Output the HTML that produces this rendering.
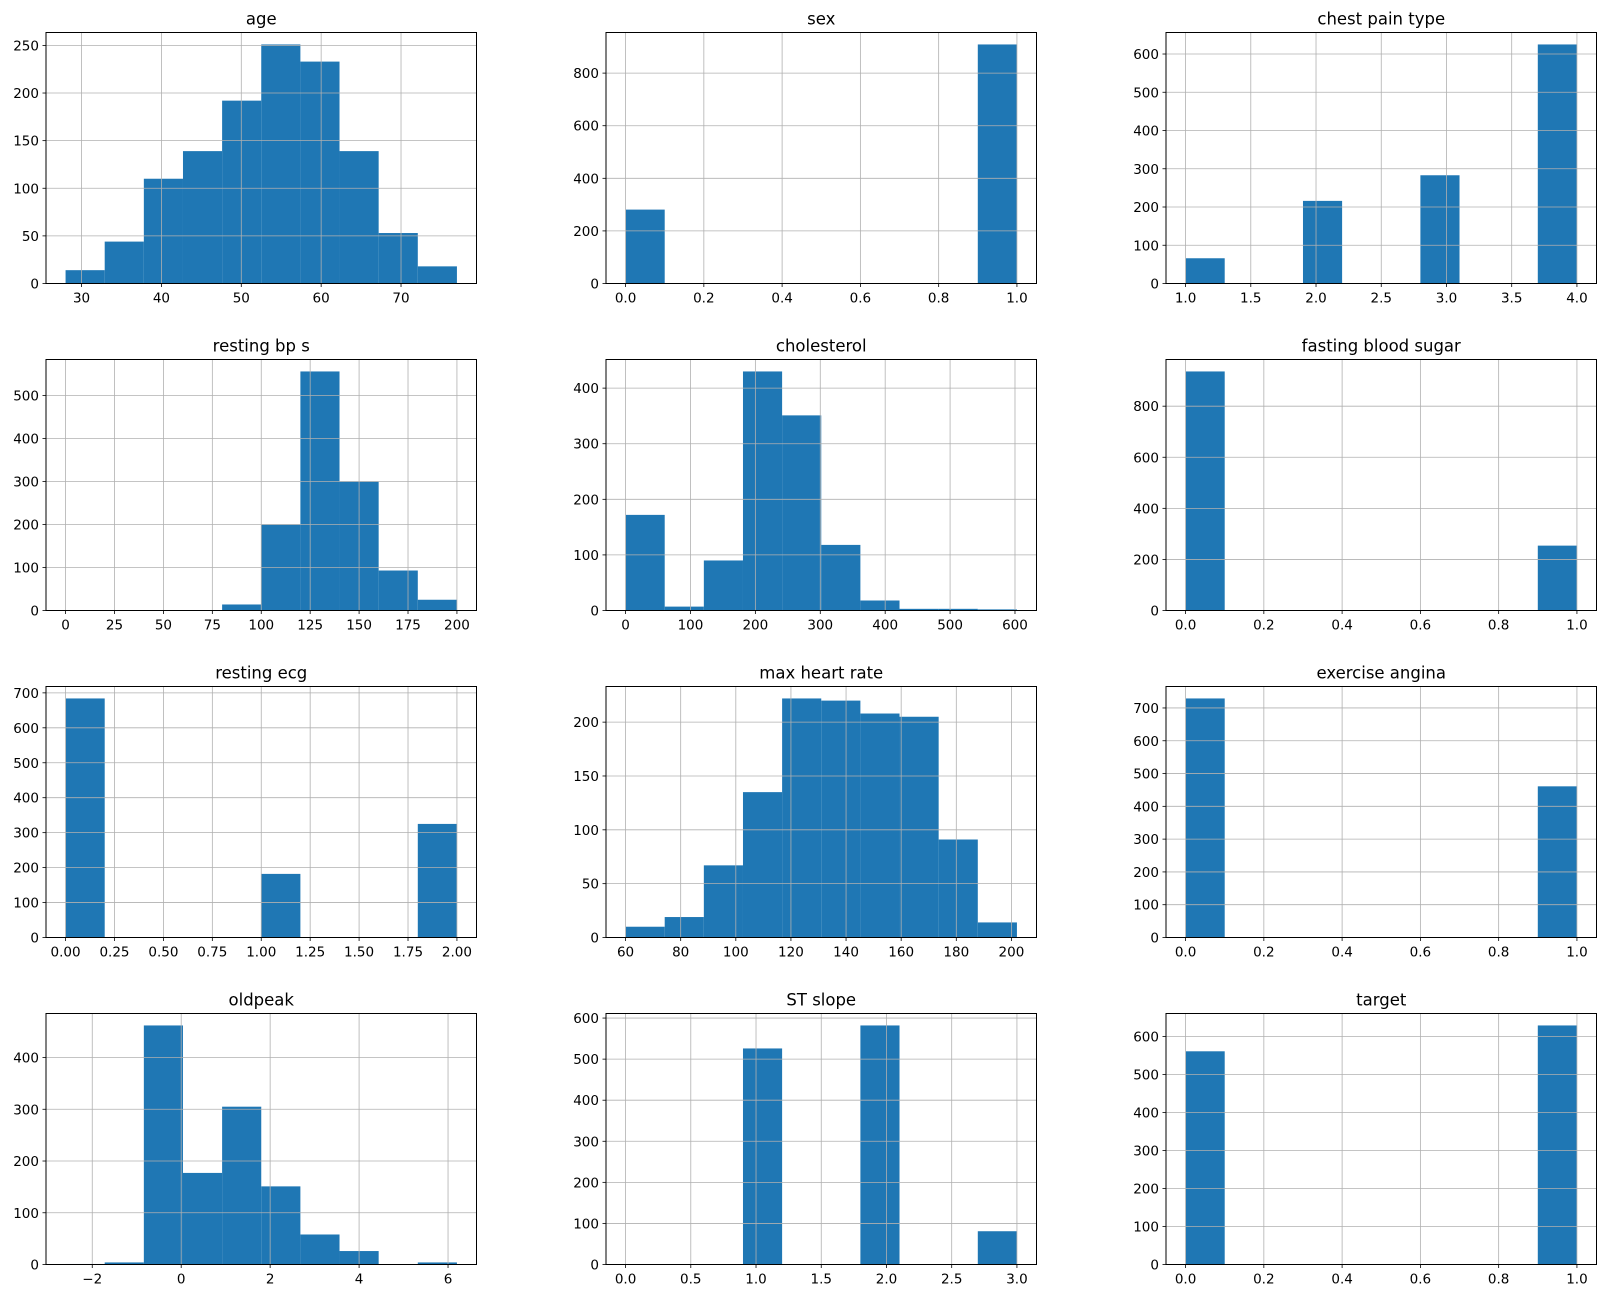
<!DOCTYPE html>
<html><head><meta charset="utf-8"><style>
body{margin:0;background:#fff}
svg{display:block;font-family:"DejaVu Sans","Liberation Sans",sans-serif}
</style></head><body>
<svg id="chart" width="1606" height="1298" viewBox="0 0 1606 1298" xmlns="http://www.w3.org/2000/svg"></svg>
<script>
const titles = ["age","sex","chest pain type","resting bp s","cholesterol","fasting blood sugar","resting ecg","max heart rate","exercise angina","oldpeak","ST slope","target"];
const binLo = [28,0,1,0,0,0,0,60,0,-2.6,0,0];
const binHi = [77,1,4,200,603,1,2,202,1,6.2,3,1];
const counts = [
 [14,44,110,139,192,251,233,139,53,18],
 [281,0,0,0,0,0,0,0,0,909],
 [66,0,0,216,0,0,283,0,0,625],
 [1,0,0,0,14,200,556,300,93,25],
 [172,7,90,430,351,118,18,3,3,2],
 [936,0,0,0,0,0,0,0,0,254],
 [684,0,0,0,0,182,0,0,0,325],
 [10,19,67,135,222,220,208,205,91,14],
 [729,0,0,0,0,0,0,0,0,461],
 [1,4,462,177,305,151,58,26,0,4],
 [1,0,0,526,0,0,582,0,0,81],
 [561,0,0,0,0,0,0,0,0,629]
];
const xTicks = [
 [30,40,50,60,70],[0,0.2,0.4,0.6,0.8,1],[1,1.5,2,2.5,3,3.5,4],
 [0,25,50,75,100,125,150,175,200],[0,100,200,300,400,500,600],[0,0.2,0.4,0.6,0.8,1],
 [0,0.25,0.5,0.75,1,1.25,1.5,1.75,2],[60,80,100,120,140,160,180,200],[0,0.2,0.4,0.6,0.8,1],
 [-2,0,2,4,6],[0,0.5,1,1.5,2,2.5,3],[0,0.2,0.4,0.6,0.8,1]
];
const xLabels = [
 ["30","40","50","60","70"],["0.0","0.2","0.4","0.6","0.8","1.0"],["1.0","1.5","2.0","2.5","3.0","3.5","4.0"],
 ["0","25","50","75","100","125","150","175","200"],["0","100","200","300","400","500","600"],["0.0","0.2","0.4","0.6","0.8","1.0"],
 ["0.00","0.25","0.50","0.75","1.00","1.25","1.50","1.75","2.00"],["60","80","100","120","140","160","180","200"],["0.0","0.2","0.4","0.6","0.8","1.0"],
 ["\u22122","0","2","4","6"],["0.0","0.5","1.0","1.5","2.0","2.5","3.0"],["0.0","0.2","0.4","0.6","0.8","1.0"]
];
const yStep = [50,200,100,100,100,200,100,50,100,100,100,100];

const svg = document.getElementById('chart');
const NS = 'http://www.w3.org/2000/svg';
function mk(tag, attrs, parent){const e=document.createElementNS(NS,tag);for(const k in attrs)e.setAttribute(k,attrs[k]);parent.appendChild(e);return e;}
const colX=[46,606,1166], rowY=[32.5,359.5,686.5,1013.5], W=430.5, H=251;
titles.forEach((t,i)=>{
  const x0=colX[i%3], y0=rowY[Math.floor(i/3)];
  const g=mk('g',{},svg);
  
  
  const lo=binLo[i], hi=binHi[i], span=hi-lo;
  const xmin=lo-0.05*span, xmax=hi+0.05*span;
  const ymax=Math.max(...counts[i])*1.05;
  const sx=v=>x0+(v-xmin)/(xmax-xmin)*W;
  const sy=v=>y0+H-v/ymax*H;
  const bw=span/counts[i].length;
  counts[i].forEach((c,j)=>{
    if(c<=0) return;
    const r=mk('rect',{x:sx(lo+j*bw),y:sy(c),width:sx(lo+(j+1)*bw)-sx(lo+j*bw),height:sy(0)-sy(c),fill:'#1f77b4'},g);
    
    
  });
  xTicks[i].forEach((v,k)=>{
    const x=sx(v);
    mk('line',{x1:x,x2:x,y1:y0,y2:y0+H,stroke:'#b0b0b0','stroke-width':0.8},g);
    mk('line',{x1:x,x2:x,y1:y0+H,y2:y0+H+3.5,stroke:'#000','stroke-width':0.8},g);
    const tx=mk('text',{x:x,y:y0+H+19,'text-anchor':'middle','font-size':13.5,fill:'#000'},g);
    tx.textContent=xLabels[i][k];
    
    
  });
  for(let v=0; v<=ymax; v+=yStep[i]){
    const y=sy(v);
    mk('line',{x1:x0,x2:x0+W,y1:y,y2:y,stroke:'#b0b0b0','stroke-width':0.8},g);
    mk('line',{x1:x0-3.5,x2:x0,y1:y,y2:y,stroke:'#000','stroke-width':0.8},g);
    const ty=mk('text',{x:x0-7,y:y+5,'text-anchor':'end','font-size':13.5,fill:'#000'},g);
    ty.textContent=String(v);
    
    
  }
  mk('rect',{x:x0,y:y0,width:W,height:H,fill:'none',stroke:'#000','stroke-width':1},g);
  const tt=mk('text',{x:x0+W/2,y:y0-8,'text-anchor':'middle','font-size':16.5,fill:'#000'},g);
  tt.textContent=t;
  
  
});
</script>
</body></html>
